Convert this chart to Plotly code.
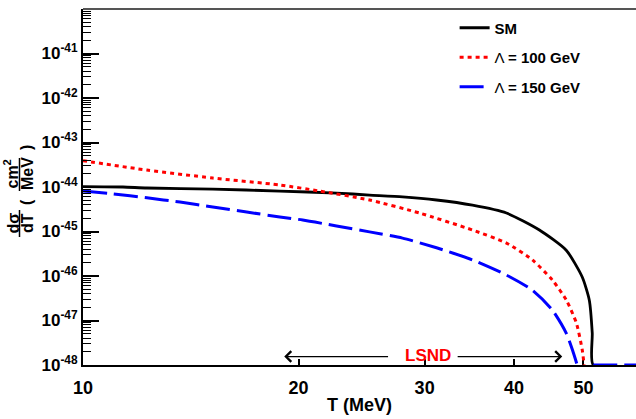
import numpy as np
import plotly.graph_objects as go

# ---- data ----
T_sm = [10.0, 11.37, 12.28, 15.18, 18.83, 22.6, 25.13, 27.94, 31.17, 34.99, 39.03, 43.39, 47.3, 49.8, 50.94, 51.43, 51.6, 60.0]
y_sm = [1.02e-44, 1.0e-44, 9.5e-45, 9.0e-45, 8.1e-45, 7.3e-45, 6.6e-45, 6.0e-45, 5.1e-45, 3.9e-45, 2.6e-45, 1.08e-45, 3.8e-46, 9.5e-47, 2.9e-47, 5.2e-48, 1e-48, 1e-48]

T_100 = [10.0, 12.28, 15.18, 18.83, 21.41, 25.13, 29.51, 34.99, 39.03, 42.42, 45.24, 47.3, 48.87, 49.8, 50.1]
y_100 = [3.9e-44, 2.4e-44, 1.59e-44, 1.11e-44, 8.1e-45, 5.1e-45, 2.6e-45, 1.08e-45, 5.5e-46, 2.3e-46, 8.1e-47, 2.9e-47, 8.8e-48, 2.2e-48, 1e-48]

T_150 = [10.0, 11.01, 12.28, 13.66, 15.18, 16.93, 18.83, 20.27, 22.6, 25.13, 27.94, 31.17, 34.99, 39.03, 42.42, 45.24, 47.3, 48.25, 49.0, None, 51.6, 60.0]
y_150 = [8.1e-45, 7.0e-45, 5.7e-45, 4.6e-45, 3.56e-45, 2.74e-45, 2.12e-45, 1.81e-45, 1.33e-45, 9.8e-46, 7.1e-46, 4.3e-46, 2.3e-46, 1.05e-46, 4.8e-47, 1.72e-47, 5.2e-48, 2.2e-48, 1e-48, None, 1e-48, 1e-48]

x_ticks = [10, 20, 30, 40, 50]
y_exps = list(range(-48, -39))
y_ticks = [10.0 ** e for e in y_exps]
y_ticktext = ["<b>10<sup>%d</sup></b>" % e for e in y_exps]
y_minor = [k * 10.0 ** e for e in range(-48, -40) for k in range(2, 10)]

FONT = "Liberation Sans, Arial, sans-serif"

fig = go.Figure()
fig.add_trace(go.Scatter(x=T_sm, y=y_sm, mode="lines", name="<b>SM</b>",
                         legendgroup="a",
                         line=dict(color="black", width=2.8, shape="spline", smoothing=0.6)))
fig.add_trace(go.Scatter(x=T_100, y=y_100, mode="lines", name="Λ <b>= 100 GeV</b>",
                         legendgroup="b",
                         line=dict(color="#ff0000", width=3, dash="4px,4px",
                                   shape="spline", smoothing=0.6)))
fig.add_trace(go.Scatter(x=T_150, y=y_150, mode="lines", name="Λ <b>= 150 GeV</b>",
                         legendgroup="c", connectgaps=False,
                         line=dict(color="#0000ff", width=3, dash="24px,7px",
                                   shape="spline", smoothing=0.6)))

fig.update_layout(
    width=636, height=419,
    margin=dict(l=83, r=0, t=9, b=54),
    plot_bgcolor="white", paper_bgcolor="white",
    font=dict(family=FONT, color="black"),
    showlegend=True,
    legend=dict(x=0.672, y=0.993, xanchor="left", yanchor="top",
                bgcolor="rgba(0,0,0,0)", font=dict(size=15, family=FONT),
                traceorder="grouped", tracegroupgap=7, itemwidth=30),
)

fig.update_xaxes(
    type="log", range=[1, np.log10(59.2)],
    tickmode="array", tickvals=x_ticks, ticktext=["<b>%d</b>" % v for v in x_ticks],
    ticks="inside", ticklen=6, tickwidth=1.5, tickcolor="black",
    showline=True, linecolor="black", linewidth=2,
    showgrid=False, zeroline=False, layer="below traces",
    tickfont=dict(size=18, family=FONT),
    ticklabelstandoff=5,
    title=dict(text="<b>T (MeV)</b>", font=dict(size=18, family=FONT), standoff=2),
)

fig.update_yaxes(
    type="log", range=[-48, -40],
    tickmode="array", tickvals=y_ticks, ticktext=y_ticktext,
    ticks="inside", ticklen=16, tickwidth=1.5, tickcolor="black",
    minor=dict(tickmode="array", tickvals=y_minor, ticks="inside", ticklen=8,
               tickwidth=1, tickcolor="black", showgrid=False),
    showline=True, linecolor="black", linewidth=2,
    showgrid=False, zeroline=False,
    tickfont=dict(size=17, family=FONT),
)

# top frame line
fig.add_shape(type="line", xref="paper", yref="paper", x0=0, x1=1, y0=1, y1=1,
              line=dict(color="#555555", width=2))

# LSND label and arrows (annotation positions in log10 units)
fig.add_annotation(x=np.log10(30.3), y=np.log10(1.6e-48), xref="x", yref="y",
                   text="<b>LSND</b>", showarrow=False,
                   font=dict(color="#ff0000", size=17, family=FONT))
fig.add_annotation(x=np.log10(19.1), y=np.log10(1.55e-48), xref="x", yref="y",
                   ax=np.log10(26.8), ay=np.log10(1.55e-48), axref="x", ayref="y",
                   text="", showarrow=True, arrowhead=4, arrowsize=1.6, arrowwidth=1.3,
                   arrowcolor="black")
fig.add_annotation(x=np.log10(46.7), y=np.log10(1.55e-48), xref="x", yref="y",
                   ax=np.log10(33.2), ay=np.log10(1.55e-48), axref="x", ayref="y",
                   text="", showarrow=True, arrowhead=4, arrowsize=1.6, arrowwidth=1.3,
                   arrowcolor="black")

# y-axis title built as two stacked fractions: d sigma / dT ( cm^2 / MeV )
def px(xp):
    return (xp - 83) / 553.0

def py(yp):
    return (365 - yp) / 356.0

ytitle_parts = [
    ("<b>dσ</b>", 12.5, 223),
    ("<b>dT</b>", 27, 223),
    ("<b>(</b>", 26, 202),
    ("<b>cm<sup>2</sup></b>", 11.5, 174),
    ("<b>MeV</b>", 27, 174),
    ("<b>)</b>", 26, 148),
]
for txt, xx, yy in ytitle_parts:
    fig.add_annotation(x=px(xx), y=py(yy), xref="paper", yref="paper",
                       text=txt, showarrow=False, textangle=-90,
                       xanchor="center", yanchor="middle",
                       font=dict(size=16, family=FONT, color="black"))
for (ya, yb) in [(210, 237), (158, 191)]:
    fig.add_shape(type="line", xref="paper", yref="paper",
                  x0=px(19.5), x1=px(19.5), y0=py(ya), y1=py(yb),
                  line=dict(color="black", width=1.5))

fig.write_html("out.html")
